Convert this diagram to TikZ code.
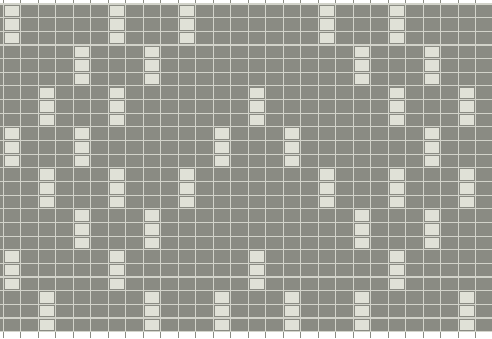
\documentclass[tikz,border=0pt]{standalone}
\definecolor{cloth}{RGB}{138,139,131}
\definecolor{thread}{RGB}{210,211,202}
\definecolor{float}{RGB}{224,225,215}

\begin{document}
\begin{tikzpicture}[
  x=1pt, y=-1pt,
  gridline/.style={draw=thread, line width=1.1pt},
  tick/.style={draw=cloth, line width=1.3pt},
  lift/.style={fill=float}
]
\useasboundingbox (0,0) rectangle (492,338);
\fill[cloth] (0,0) rectangle (492,338);
\fill[white] (0,0) rectangle (492,4);
\fill[white] (0,332) rectangle (492,338);

% warp lines and edge ticks
\foreach \k in {0,...,28} {
  \draw[gridline] ({3.3+17.5*\k},4) -- ({3.3+17.5*\k},332);
  \draw[tick] ({3.3+17.5*\k},0) -- ({3.3+17.5*\k},4);
  \draw[tick] ({3.3+17.5*\k},332) -- ({3.3+17.5*\k},338);
}
% weft lines
\foreach \j in {0,...,24}
  \draw[gridline] (0,{4+13.65*\j}) -- (492,{4+13.65*\j});

% floats, three picks each
\foreach \band/\cols in {0/{0,6,10,18,22}, 1/{4,8,20,24}, 2/{2,6,14,22,26},
    3/{0,4,12,16,24}, 4/{2,6,10,18,22,26}, 5/{4,8,20,24},
    6/{0,6,14,22}, 7/{2,8,12,16,20,26}}
  \foreach \c in \cols
    \foreach \r in {0,1,2}
      \fill[lift] ({3.3+17.5*\c+2},{4+13.65*(3*\band+\r)+1.6}) rectangle ++(13.6,10.5);

\end{tikzpicture}
\end{document}
